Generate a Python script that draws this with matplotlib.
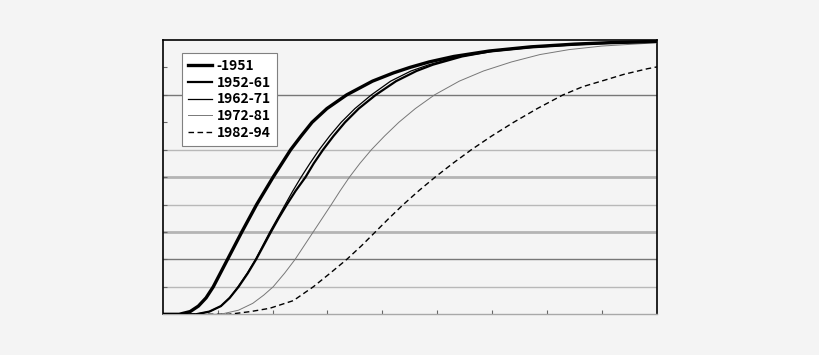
import matplotlib
matplotlib.use('Agg')
import matplotlib.pyplot as plt

# cumulative share by cohort (x position, level)
x_1951 = [0, 0.3, 0.5, 0.65, 0.79, 0.92, 1.05, 1.18, 1.31, 1.44, 1.575, 1.71, 1.86, 2.01, 2.17, 2.33, 2.52, 2.72,
          2.99, 3.35, 3.82, 4.2, 4.5, 4.85, 5.3, 5.95, 6.7, 7.5, 8.1, 9.0]
y_1951 = [0, 0, 0.01, 0.03, 0.06, 0.10, 0.15, 0.20, 0.25, 0.30, 0.35, 0.40, 0.45, 0.50, 0.55, 0.60, 0.65, 0.70,
          0.75, 0.80, 0.85, 0.88, 0.90, 0.92, 0.94, 0.96, 0.975, 0.985, 0.99, 0.995]

x_1952 = [0, 0.6, 0.85, 1.06, 1.22, 1.38, 1.55, 1.70, 1.835, 1.97, 2.11, 2.26, 2.42, 2.6, 2.75, 2.92, 3.11, 3.32,
          3.57, 3.88, 4.25, 4.62, 4.92, 5.45, 6.0, 6.75, 7.6, 8.2, 9.0]
y_1952 = [0, 0, 0.01, 0.03, 0.06, 0.10, 0.15, 0.20, 0.25, 0.30, 0.35, 0.40, 0.45, 0.50, 0.55, 0.60, 0.65, 0.70,
          0.75, 0.80, 0.85, 0.887, 0.91, 0.94, 0.96, 0.975, 0.985, 0.99, 0.994]

x_1962 = [0, 0.6, 0.85, 1.06, 1.22, 1.37, 1.54, 1.69, 1.82, 1.95, 2.09, 2.23, 2.37, 2.52, 2.68, 2.85, 3.04, 3.25,
          3.5, 3.80, 4.15, 4.52, 4.85, 5.4, 5.95, 6.7, 7.55, 8.15, 9.0]
y_1962 = [0, 0, 0.01, 0.03, 0.06, 0.10, 0.15, 0.20, 0.25, 0.30, 0.35, 0.40, 0.45, 0.50, 0.55, 0.60, 0.65, 0.70,
          0.75, 0.80, 0.85, 0.887, 0.91, 0.94, 0.96, 0.975, 0.985, 0.99, 0.994]

x_1972 = [0, 1.05, 1.38, 1.64, 1.84, 2.01, 2.22, 2.41, 2.575, 2.74, 2.905, 3.07, 3.23, 3.40, 3.59, 3.80, 4.04, 4.30,
          4.60, 4.95, 5.4, 5.84, 6.35, 6.87, 7.4, 8.0, 9.0]
y_1972 = [0, 0, 0.015, 0.04, 0.07, 0.10, 0.15, 0.20, 0.25, 0.30, 0.35, 0.40, 0.45, 0.50, 0.55, 0.60, 0.65, 0.70,
          0.75, 0.80, 0.85, 0.887, 0.92, 0.947, 0.965, 0.978, 0.99]

x_1982 = [0, 1.2, 1.6, 1.95, 2.38, 2.74, 3.05, 3.35, 3.62, 3.87, 4.12, 4.38, 4.66, 4.96, 5.28, 5.62, 5.99, 6.39,
          6.82, 7.29, 7.65, 8.07, 8.4, 8.82, 9.0]
y_1982 = [0, 0, 0.01, 0.022, 0.05, 0.10, 0.15, 0.20, 0.25, 0.30, 0.35, 0.40, 0.45, 0.50, 0.55, 0.60, 0.65, 0.70,
          0.75, 0.80, 0.83, 0.855, 0.875, 0.895, 0.902]

labels = ['-1951', '1952-61', '1962-71', '1972-81', '1982-94']

grid_levels = [0.1, 0.2, 0.3, 0.4, 0.5, 0.6, 0.8]
grid_dark = [0.2, 0.8]
grid_thick = [0.3, 0.5]

bg = '#f4f4f4'
fig = plt.figure(figsize=(8.2, 3.55), dpi=100, facecolor=bg)
ax = fig.add_axes([0.1984, 0.1146, 0.6028, 0.7727], facecolor=bg)

for lv in grid_levels:
  if lv in grid_dark:
    ax.axhline(lv, color='#777777', lw=1.0, zorder=1)
  elif lv in grid_thick:
    ax.axhline(lv, color='#b4b4b4', lw=2.0, zorder=1)
  else:
    ax.axhline(lv, color='#b8b8b8', lw=1.0, zorder=1)

ax.plot(x_1951, y_1951, color='black', lw=2.4, label=labels[0], zorder=5)
ax.plot(x_1952, y_1952, color='black', lw=1.6, label=labels[1], zorder=4)
ax.plot(x_1962, y_1962, color='black', lw=0.9, label=labels[2], zorder=4)
ax.plot(x_1972, y_1972, color='#777777', lw=0.7, label=labels[3], zorder=3)
ax.plot(x_1982, y_1982, color='black', lw=1.0, ls=(0, (4, 2.5)), label=labels[4], zorder=3)

ax.set_xlim(0, 9)
ax.set_ylim(0, 1)
ax.set_xticks(range(1, 9))
ax.set_yticks([0.1 * i for i in range(1, 10)])
ax.tick_params(direction='in', length=3, width=0.8, color='#666666',
               labelbottom=False, labelleft=False)
for s in ['left', 'top', 'right']:
  ax.spines[s].set_color('black')
  ax.spines[s].set_linewidth(1.2)
ax.spines['bottom'].set_color('#a8a8a8')
ax.spines['bottom'].set_linewidth(1.0)

leg = ax.legend(loc='upper left', bbox_to_anchor=(0.039, 0.954), borderaxespad=0,
                frameon=True, fancybox=False, framealpha=1, edgecolor='#808080',
                handlelength=1.7, handletextpad=0.35, labelspacing=0.2,
                borderpad=0.45, prop={'family': ['Noto Sans CJK JP', 'DejaVu Sans'],
                                      'weight': 'bold', 'size': 10})
leg.get_frame().set_linewidth(0.8)
leg.get_frame().set_facecolor('white')

fig.savefig('out.png', dpi=100, facecolor=bg)
